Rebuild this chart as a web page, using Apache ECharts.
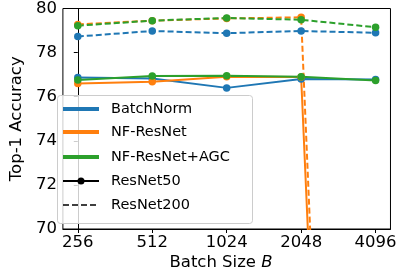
<!DOCTYPE html>
<html><head><meta charset="utf-8">
<script src="https://cdn.jsdelivr.net/npm/echarts@6/dist/echarts.min.js"></script>
<style>html,body{margin:0;padding:0;background:#fff}#c{width:399px;height:274px}</style>
</head><body><div id="c"></div>
<script>
const batchSizes = ['256', '512', '1024', '2048', '4096'];
const yTicks = [70, 72, 74, 76, 78, 80];
const bnR50 = [76.87, 76.83, 76.4, 76.8, 76.78];
const bnR200 = [78.73, 78.98, 78.88, 78.98, 78.9];
const nfR50 = [76.6, 76.68, 76.9, 76.89, 0.1];
const nfR200 = [79.28, 79.45, 79.55, 79.6, 0.1];
const agcR50 = [76.76, 76.94, 76.95, 76.9, 76.73];
const agcR200 = [79.22, 79.45, 79.57, 79.49, 79.15];
const methods = ['BatchNorm', 'NF-ResNet', 'NF-ResNet+AGC'];
const archs = ['ResNet50', 'ResNet200'];
const colors = ['#1f77b4', '#ff7f0e', '#2ca02c'];

const chart = echarts.init(document.getElementById('c'), null, {renderer: 'canvas'});
const font = 'DejaVu Sans';
function mk(name, vals, color, dashed) {
  return {
    name: name, type: 'line', data: vals.map((v, i) => [i, v]),
    symbol: 'circle', symbolSize: 7.5, clip: true,
    itemStyle: {color: color},
    lineStyle: {color: color, width: 2, type: dashed ? [6, 3] : 'solid'},
    emphasis: {disabled: true}, animation: false
  };
}
const series = [
  mk('BatchNorm ResNet50', bnR50, colors[0], false),
  mk('BatchNorm ResNet200', bnR200, colors[0], true),
  mk('NF-ResNet ResNet50', nfR50, colors[1], false),
  mk('NF-ResNet ResNet200', nfR200, colors[1], true),
  mk('NF-ResNet+AGC ResNet50', agcR50, colors[2], false),
  mk('NF-ResNet+AGC ResNet200', agcR200, colors[2], true)
];

const lx0 = 63, lx1 = 99, tx = 111, rows = [109, 132, 157, 181, 205];
const g = [{
  type: 'rect', shape: {x: 57.5, y: 95.5, width: 195, height: 128, r: 3},
  style: {fill: 'rgba(255,255,255,0.8)', stroke: '#cccccc', lineWidth: 1}, z: 100
}];
const legendItems = [
  {label: methods[0], color: colors[0], w: 4, dash: null, dot: false},
  {label: methods[1], color: colors[1], w: 4, dash: null, dot: false},
  {label: methods[2], color: colors[2], w: 4, dash: null, dot: false},
  {label: archs[0], color: '#000', w: 2, dash: null, dot: true},
  {label: archs[1], color: '#000', w: 1.5, dash: [6, 3], dot: false}
];
legendItems.forEach((it, k) => {
  const y = rows[k];
  g.push({type: 'line', shape: {x1: lx0, y1: y, x2: lx1, y2: y},
    style: {stroke: it.color, lineWidth: it.w, lineDash: it.dash}, z: 101});
  if (it.dot) g.push({type: 'circle', shape: {cx: (lx0 + lx1) / 2, cy: y, r: 3.5}, style: {fill: '#000'}, z: 102});
  g.push({type: 'text', x: tx, y: y, style: {text: it.label, font: '14.5px "DejaVu Sans"', fill: '#000', verticalAlign: 'middle'}, z: 102});
});
g.push({type: 'text', x: 221, y: 263, style: {
  rich: {n: {fontFamily: font, fontSize: 16.5, fill: '#000'}, i: {fontFamily: font, fontSize: 16.5, fontStyle: 'italic', fill: '#000'}},
  text: '{n|Batch Size }{i|B}', align: 'center', verticalAlign: 'middle', fill: '#000'}});

chart.setOption({
  animation: false,
  grid: {left: 50, right: 7, top: 6, bottom: 45, show: true, borderColor: '#000', borderWidth: 1, backgroundColor: 'transparent'},
  xAxis: {
    type: 'value', min: -0.2, max: 4.2,
    axisLine: {show: true, lineStyle: {color: '#000', width: 1}},
    axisTick: {show: true, length: 4, inside: false, customValues: [0, 1, 2, 3, 4], lineStyle: {color: '#000'}},
    axisLabel: {show: true, customValues: [0, 1, 2, 3, 4], formatter: v => batchSizes[Math.round(v)],
      fontFamily: font, fontSize: 16.5, color: '#000', margin: 5},
    splitLine: {show: false}
  },
  yAxis: {
    type: 'value', min: yTicks[0], max: yTicks[yTicks.length - 1], interval: 2,
    name: 'Top-1 Accuracy', nameLocation: 'middle', nameGap: 33,
    nameTextStyle: {fontFamily: font, fontSize: 16.5, color: '#000'},
    axisLine: {show: true, lineStyle: {color: '#000', width: 1}},
    axisTick: {show: true, length: 4, lineStyle: {color: '#000'}},
    axisLabel: {fontFamily: font, fontSize: 16.5, color: '#000', margin: 6},
    splitLine: {show: false}
  },
  series: series,
  graphic: g
});
</script></body></html>
